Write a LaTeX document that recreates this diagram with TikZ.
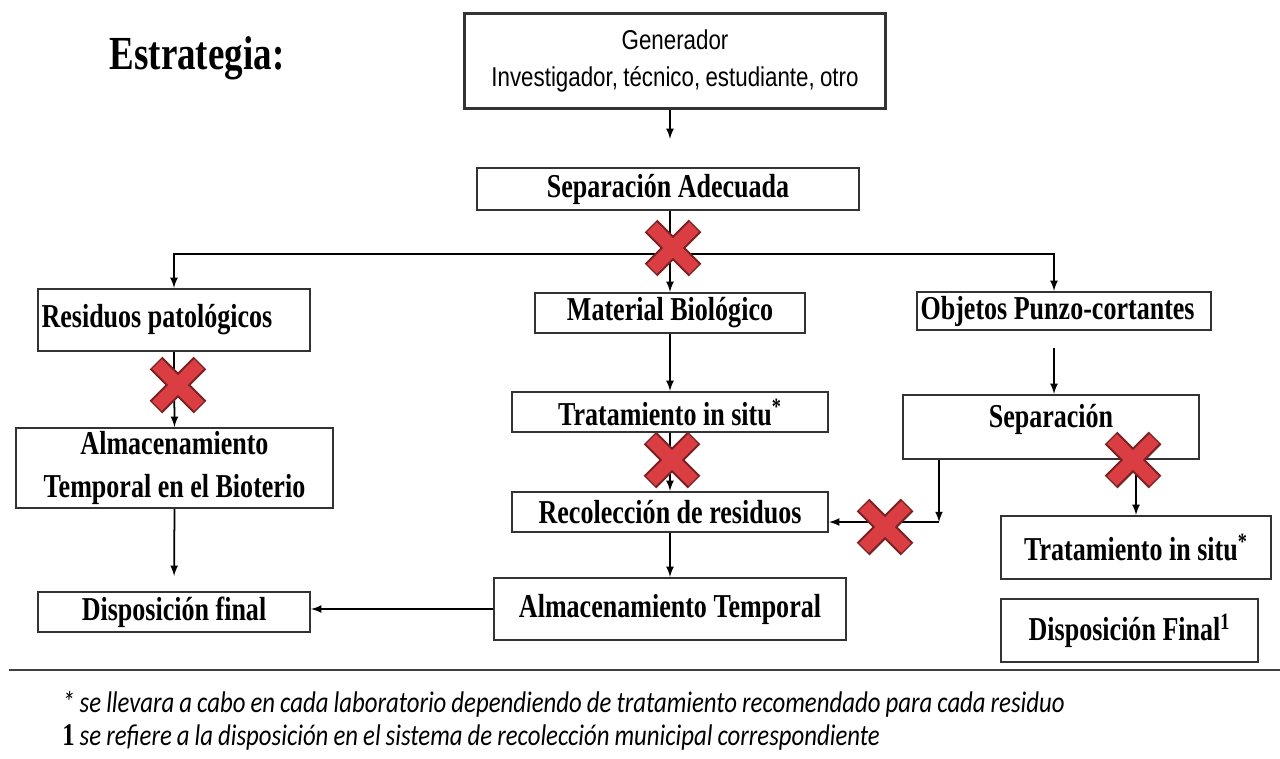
\documentclass[tikz,border=0pt]{standalone}
\usepackage{fontspec}
\usepackage{tikz}
\usetikzlibrary{arrows.meta}

\newfontfamily\boxfont[FakeStretch=0.78]{Liberation Serif}
\newfontfamily\genfont[FakeStretch=0.82, WordSpace=0.85]{Liberation Sans}
\newfontfamily\notefont[FakeStretch=0.83, WordSpace=0.9]{Carlito}
\definecolor{xred}{RGB}{218,62,66}

\tikzset{
  box/.style={draw=black!80, line width=1.3pt, inner sep=2pt, align=center,
    font=\boxfont\bfseries\fontsize{19pt}{24pt}\selectfont},
  arr/.style={-latex, line width=1pt},
  note/.style={anchor=west, inner sep=0pt, font=\notefont\itshape\fontsize{17pt}{19pt}\selectfont},
  redx/.pic={
    \draw[line width=0.36cm, xred!55!black] (-22,-22) -- (22,22) (-22,22) -- (22,-22);
    \draw[line width=0.27cm, xred] (-21,-21) -- (21,21) (-21,21) -- (21,-21);
  }
}

\begin{document}
\begin{tikzpicture}[x=0.02cm, y=-0.02cm]
            \useasboundingbox (0,0) rectangle (1280,758);
            \node[font=\boxfont\bfseries\fontsize{27pt}{30pt}\selectfont] (title) at (197,58) {Estrategia:};
            \node[box, minimum width=8.42cm, minimum height=1.9cm,
              font=\genfont\fontsize{15.5pt}{21pt}\selectfont] (gen) at (675,61)
              {Generador\\Investigador, técnico, estudiante, otro};
            \node[box, minimum width=7.64cm, minimum height=0.84cm] (sepA) at (668,189) {Separación Adecuada};
            \node[box, minimum height=1.24cm] (resid) at (174,320) {\makebox[5.3cm][l]{Residuos patológicos}};
            \node[box, minimum width=5.4cm, minimum height=0.8cm] (mat) at (670,313) {Material Biológico};
            \node[box, minimum height=0.76cm] (obj) at (1064,311) {\makebox[5.74cm][l]{Objetos Punzo-cortantes}};
            \node[box, minimum width=6.34cm, minimum height=1.6cm] (almB) at (174.5,468) {Almacenamiento\\Temporal en el Bioterio};
            \node[box, minimum width=6.32cm, minimum height=0.8cm] (trat1) at (670,412) {Tratamiento in situ\textsuperscript{*}};
            \node[box, minimum width=6.32cm, minimum height=0.8cm] (recol) at (670,512) {Recolección de residuos};
            \node[box, minimum width=7.04cm, minimum height=1.24cm] (almT) at (670,609) {Almacenamiento Temporal};
            \node[box, minimum width=5.44cm, minimum height=0.8cm] (dispf) at (174,612) {Disposición final};
            \node[box, minimum width=5.92cm, minimum height=1.28cm, text depth=0.45cm] (sep2) at (1051,427) {Separación};
            \node[box, minimum width=5.4cm, minimum height=1.26cm] (trat2) at (1136,547.5) {Tratamiento in situ\textsuperscript{*}};
            \node[box, minimum width=5.14cm, minimum height=1.26cm] (dispF) at (1129.5,630.5) {Disposición Final\textsuperscript{1}};
            \coordinate (split) at (672,254);
            \coordinate (bend) at (939,522);
            % connectors
            \draw[arr, shorten >=0.56cm] (gen.south -| mat.north) -- (sepA.north -| mat.north);
            \draw[arr] (mat.north |- sepA.south) -- (mat.north);
            \draw[arr] (split) -| (resid.north);
            \draw[arr] (split) -| ([xshift=-0.2cm]obj.north);
            \draw[arr] (resid.south) -- (almB.north);
            \draw[arr, shorten >=0.3cm] (almB.south) -- (dispf.north);
            \draw[arr] (almT.west) -- (almT.west -| dispf.east);
            \draw[arr] (mat.south) -- (trat1.north);
            \draw[arr] (trat1.south) -- (recol.north);
            \draw[arr] (recol.south) -- (almT.north);
            \draw[arr, shorten <=0.34cm] ([xshift=-0.2cm]obj.south) -- ([xshift=-0.2cm]obj.south |- sep2.north);
            \draw[arr] (sep2.south -| bend) -- (bend);
            \draw[arr] (bend) -- (bend -| recol.east);
            \draw[arr] (trat2.north |- sep2.south) -- (trat2.north);
            % crosses
            \pic at (673,248) {redx};
            \pic at (178,385) {redx};
            \pic at (672,460) {redx};
            \pic at (885,527) {redx};
            \pic at (1133,460) {redx};
            % notes
            \draw[black!75, line width=1.4pt] (9,670) -- (1280,670);
            \node[note] (note1) at (62,704)
              {* se llevara a cabo en cada laboratorio dependiendo de tratamiento recomendado para cada residuo};
            \node[note] (note2) at (62,737)
              {{\boxfont\upshape\bfseries\fontsize{18pt}{20pt}\selectfont 1} se refiere a la disposición en el sistema de recolección municipal correspondiente};
        \end{tikzpicture}
\end{document}
